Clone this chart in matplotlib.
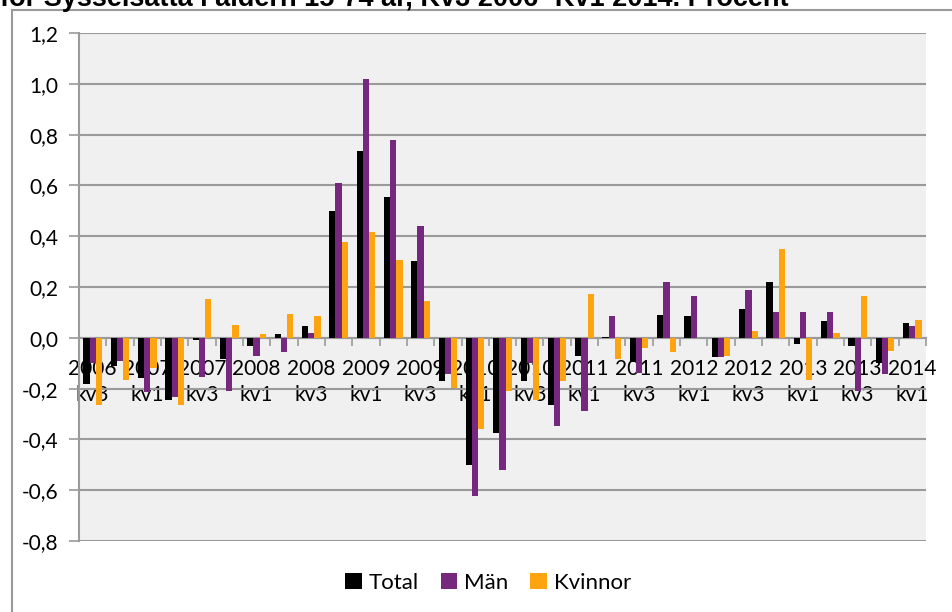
import matplotlib
matplotlib.use("Agg")
import matplotlib.pyplot as plt
import numpy as np
from matplotlib.lines import Line2D

plt.rcParams.update({
    "font.family": ["Lato", "DejaVu Sans"],
    "font.size": 14,
})

# kvartal 2006 kv3 .. 2014 kv1
years = [2006, 2006, 2007, 2007, 2007, 2007, 2008, 2008, 2008, 2008,
         2009, 2009, 2009, 2009, 2010, 2010, 2010, 2010, 2011, 2011,
         2011, 2011, 2012, 2012, 2012, 2012, 2013, 2013, 2013, 2013, 2014]
quarters = [3, 4, 1, 2, 3, 4, 1, 2, 3, 4, 1, 2, 3, 4, 1, 2, 3, 4, 1, 2,
            3, 4, 1, 2, 3, 4, 1, 2, 3, 4, 1]

total = [-0.18, -0.11, -0.157, -0.246, -0.007, -0.085, -0.032, 0.013, 0.048, 0.50,
         0.735, 0.555, 0.302, -0.17, -0.50, -0.373, -0.17, -0.264, -0.071, 0.002,
         -0.097, 0.089, 0.085, -0.074, 0.112, 0.219, -0.024, 0.065, -0.033, -0.098,
         0.058]
man = [-0.10, -0.09, -0.213, -0.233, -0.154, -0.21, -0.073, -0.056, 0.018, 0.609,
       1.02, 0.778, 0.441, -0.143, -0.622, -0.521, -0.10, -0.349, -0.289, 0.084,
       -0.14, 0.22, 0.164, -0.075, 0.187, 0.10, 0.103, 0.102, -0.21, -0.143,
       0.045]
kvinnor = [-0.263, -0.165, -0.12, -0.263, 0.153, 0.049, 0.014, 0.093, 0.084, 0.379,
           0.416, 0.308, 0.143, -0.197, -0.361, -0.209, -0.243, -0.17, 0.172, -0.085,
           -0.042, -0.055, 0.0, -0.07, 0.026, 0.35, -0.168, 0.02, 0.166, -0.052,
           0.071]

series = [("Total", total, "#000000"),
          ("Män", man, "#76277E"),
          ("Kvinnor", kvinnor, "#FFA411")]

W, H = 952, 612
fig = plt.figure(figsize=(W / 100, H / 100), dpi=100)
ax = fig.add_axes([79 / W, 1 - 541 / H, (926 - 79) / W, (541 - 33) / H])
ax.set_facecolor("#F0F0F0")

n = len(years)
x = np.arange(n)
bw = 0.227
for i, (name, vals, col) in enumerate(series):
    ax.bar(x + (i - 1) * bw, vals, bw, color=col, label=name, zorder=3)

ax.set_xlim(-0.5, n - 0.5)
ax.set_ylim(-0.8, 1.2)
yt = np.arange(-0.8, 1.21, 0.2)
ax.set_yticks(yt)
ax.set_yticklabels([f"{v:.1f}".replace(".", ",").replace("-0,0", "0,0") for v in yt])
ax.grid(axis="y", color="#9A9A9A", linewidth=1.5, zorder=1)

# x axis at zero, ticks at category boundaries, labels every second quarter
ax.spines["bottom"].set_position(("data", 0))
ax.spines["bottom"].set_color("#9A9A9A")
ax.spines["bottom"].set_linewidth(1.5)
ax.spines["bottom"].set_zorder(2)
ax.spines["left"].set_color("#9A9A9A")
ax.spines["left"].set_linewidth(1.5)
ax.spines["top"].set_visible(False)
ax.spines["right"].set_visible(False)

ax.set_xticks(np.arange(-0.5, n, 1.0))
ax.set_xticklabels([])
ax.tick_params(axis="x", which="major", length=6, width=1.2, color="#9A9A9A")
lab_pos = x[::2]
ax.set_xticks(lab_pos, minor=True)
ax.set_xticklabels([f"{years[i]}\nkv{quarters[i]}" for i in lab_pos], minor=True,
                   linespacing=1.4)
ax.tick_params(axis="x", which="minor", length=0, pad=15, labelsize=15)
ax.tick_params(axis="y", length=7, width=1.2, color="#9A9A9A", pad=8, labelsize=15)

# title (cut off at top edge, as in the source) and outer frame
fig.text(0.0, 1 - 6 / H, "för Sysselsatta i åldern 15-74 år, Kv3 2006- Kv1 2014. Procent",
         ha="left", va="baseline", fontsize=19.5, fontweight="bold",
         family="Liberation Sans")
fig.add_artist(Line2D([12 / W, 12 / W], [0, 1 - 10 / H], color="#9A9A9A", lw=1.5))
fig.add_artist(Line2D([12 / W, 1], [1 - 10 / H, 1 - 10 / H], color="#9A9A9A", lw=1.5))

fig.legend(loc="center", bbox_to_anchor=(488 / W, 1 - 583 / H), ncol=3,
           frameon=False, handlelength=0.75, handleheight=0.75, handletextpad=0.3,
           columnspacing=1.0, fontsize=16)

fig.savefig("out.png", dpi=100)
